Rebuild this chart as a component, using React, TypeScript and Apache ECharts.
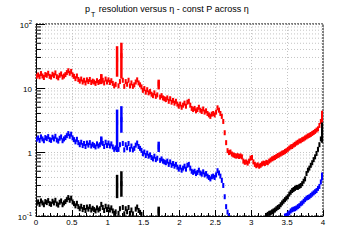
import React, { useEffect, useRef } from "react";
import * as echarts from "echarts";

// pseudorapidity bins: 200 bins of width 0.02 from 0 to 4
const binWidth = 0.02;
const etaCenters: number[] = Array.from({ length: 200 }, (_, i) => +(0.01 + i * binWidth).toFixed(2));

// p_T resolution (%) per eta bin for the three momentum settings
const redValues: (number | null)[] = [
  15.2, 16.0, 15.0, 16.8, 15.4, 14.6, 16.2, 15.8, 17.0, 15.2,
  14.8, 16.4, 15.6, 17.2, 15.0, 14.4, 15.8, 16.6, 14.8, 15.4,
  16.2, 17.4, 18.6, 17.0, 18.2, 16.0, 15.2, 14.0, 15.4, 13.6,
  12.8, 13.8, 12.4, 13.2, 12.0, 13.4, 12.6, 13.6, 12.2, 12.8,
  12.4, 11.8, 13.0, 12.2, 12.6, 14.8, 13.2, 12.0, 13.8, 12.4,
  13.4, 12.2, 13.0, 11.8, 10.8, 11.4, 28, 10.8, 12.6, 32,
  13.2, 10.6, 12.6, 11.4, 13.2, 10.8, 12.0, 10.6, 11.2, 12.4,
  13.4, 12.0, 11.2, 10.4, 9.2, 9.8, 8.6, 9.4, 8.4, 8.8,
  8.0, 7.6, 8.4, 7.4, 7.8, 11.6, 7.2, 7.6, 7.0, 6.8,
  6.6, 7.0, 6.2, 6.8, 6.0, 6.4, 5.8, 6.2, 5.6, 5.2,
  5.6, 5.0, 5.4, 5.8, 5.2, 6.0, 6.2, 5.4, 4.8, 4.6,
  4.8, 4.4, 4.6, 5.0, 4.5, 4.3, 4.7, 4.2, 4.4, 4.0,
  3.8, 3.6, 3.9, 4.0, 3.8, 4.2, 4.9, 4.5, 4.0, 3.6,
  3.0, 2.0, 1.4, 1.05, 0.98, 1.0, 0.93, 0.9, 0.88, 0.86,
  0.88, 0.85, 0.87, 0.84, 0.72, 0.69, 0.7, 0.67, 0.72, 0.8,
  0.82, 0.7, 0.64, 0.61, 0.63, 0.6, 0.62, 0.65, 0.67, 0.66,
  0.69, 0.68, 0.72, 0.75, 0.78, 0.8, 0.82, 0.85, 0.88, 0.9,
  0.93, 0.96, 0.98, 1.02, 1.05, 1.1, 1.15, 1.2, 1.22, 1.28,
  1.32, 1.38, 1.42, 1.48, 1.5, 1.56, 1.6, 1.66, 1.72, 1.78,
  1.82, 1.88, 1.95, 2.02, 2.1, 2.2, 2.3, 2.6, 3.0, 3.6,
];

const blueValues: (number | null)[] = [
  1.58, 1.66, 1.52, 1.72, 1.6, 1.5, 1.68, 1.62, 1.74, 1.56,
  1.52, 1.7, 1.6, 1.76, 1.54, 1.48, 1.64, 1.72, 1.5, 1.6,
  1.68, 1.8, 1.94, 1.76, 1.9, 1.66, 1.56, 1.44, 1.58, 1.4,
  1.3, 1.42, 1.26, 1.36, 1.22, 1.38, 1.28, 1.4, 1.24, 1.32,
  1.26, 1.2, 1.34, 1.24, 1.3, 1.52, 1.36, 1.22, 1.42, 1.26,
  1.38, 1.24, 1.34, 1.2, 1.1, 1.16, 2.9, 1.1, 1.3, 3.2,
  1.36, 1.08, 1.3, 1.16, 1.36, 1.1, 1.24, 1.08, 1.14, 1.28,
  1.38, 1.22, 1.14, 1.06, 0.94, 1.0, 0.88, 0.96, 0.86, 0.9,
  0.82, 0.78, 0.86, 0.76, 0.8, 1.2, 0.74, 0.78, 0.72, 0.7,
  0.68, 0.72, 0.64, 0.7, 0.62, 0.66, 0.6, 0.64, 0.58, 0.54,
  0.58, 0.52, 0.56, 0.6, 0.54, 0.62, 0.64, 0.56, 0.5, 0.48,
  0.5, 0.46, 0.48, 0.52, 0.47, 0.45, 0.49, 0.44, 0.46, 0.42,
  0.4, 0.38, 0.41, 0.42, 0.4, 0.44, 0.51, 0.47, 0.42, 0.36,
  0.3, 0.2, 0.14, 0.115, 0.1, null, null, null, null, null,
  null, null, null, null, null, null, null, null, null, null,
  null, null, null, null, null, null, null, null, null, null,
  null, null, null, null, null, null, null, null, null, null,
  null, null, null, 0.1, 0.102, 0.108, 0.112, 0.12, 0.125, 0.128,
  0.13, 0.134, 0.14, 0.145, 0.155, 0.16, 0.17, 0.18, 0.19, 0.195,
  0.2, 0.21, 0.22, 0.23, 0.24, 0.25, 0.27, 0.29, 0.34, 0.42,
];

const blackValues: (number | null)[] = [
  0.158, 0.166, 0.152, 0.172, 0.16, 0.15, 0.168, 0.162, 0.174, 0.156,
  0.152, 0.17, 0.16, 0.176, 0.154, 0.148, 0.164, 0.172, 0.15, 0.16,
  0.168, 0.18, 0.194, 0.176, 0.19, 0.166, 0.156, 0.144, 0.158, 0.14,
  0.13, 0.142, 0.126, 0.136, 0.122, 0.138, 0.128, 0.14, 0.124, 0.132,
  0.126, 0.12, 0.134, 0.124, 0.13, 0.152, 0.136, 0.122, 0.142, 0.126,
  0.138, 0.124, 0.134, 0.12, 0.11, 0.116, 0.3, 0.11, 0.13, 0.32,
  0.136, 0.108, 0.13, 0.116, 0.136, 0.11, 0.124, 0.108, null, 0.128,
  0.138, 0.122, 0.114, 0.106, null, null, null, null, null, null,
  null, null, null, null, null, 0.12, null, null, null, null,
  null, null, null, null, null, null, null, null, null, null,
  null, null, null, null, null, null, null, null, null, null,
  null, null, null, null, null, null, null, null, null, null,
  null, null, null, null, null, null, null, null, null, null,
  null, null, null, null, null, null, null, null, null, null,
  null, null, null, null, null, null, null, null, null, null,
  null, null, null, null, null, null, null, null, null, null,
  0.102, 0.106, 0.11, 0.112, 0.116, 0.12, 0.124, 0.13, 0.136, 0.14,
  0.15, 0.16, 0.17, 0.18, 0.19, 0.2, 0.22, 0.235, 0.25, 0.26,
  0.27, 0.28, 0.28, 0.29, 0.3, 0.32, 0.35, 0.38, 0.46, 0.52,
  0.56, 0.62, 0.68, 0.76, 0.84, 0.95, 1.1, 1.3, 1.6, 2.1,
];

// large statistical errors: [eta, low, high]
const redErrors: number[][] = [[0.91, 11.5, 16.5], [1.13, 15, 45], [1.19, 14, 51], [1.71, 9.5, 13.5], [3.99, 2.9, 4.4]];
const blueErrors: number[][] = [[0.91, 1.3, 1.75], [1.13, 1.0, 4.6], [1.19, 2.0, 5.2], [1.71, 1.0, 1.45], [3.99, 0.36, 0.48]];
const blackErrors: number[][] = [[1.13, 0.19, 0.44], [1.19, 0.2, 0.5], [1.71, 0.1, 0.14], [3.99, 1.4, 2.9]];

const xTicks = { min: 0, max: 4, step: 0.5 };
const yRange = { min: 0.1, max: 100 };
const logMinorTicks = [0.2, 0.3, 0.4, 0.5, 0.6, 0.7, 0.8, 0.9, 2, 3, 4, 5, 6, 7, 8, 9, 20, 30, 40, 50, 60, 70, 80, 90];

const FONT = "Liberation Sans, Arial, Helvetica, sans-serif";
const GRID_COLOR = "#c4c4c4";

function buildData(values: (number | null)[], errors: number[][]) {
  const out: (number | string)[][] = [];
  values.forEach((v, i) => {
    if (v == null) return;
    const eta = etaCenters[i];
    const e = errors.find((r) => Math.abs(r[0] - eta) < 1e-6);
    out.push([eta, v, e ? e[1] : "-", e ? e[2] : "-"]);
  });
  return out;
}

function histRender(color: string) {
  return (params: any, api: any) => {
    const eta = api.value(0);
    const v = api.value(1);
    const lo = api.value(2);
    const hi = api.value(3);
    const cs = params.coordSys;
    const clip = { x: cs.x, y: cs.y, width: cs.width, height: cs.height };
    const pL = api.coord([eta - binWidth / 2, v]);
    const pR = api.coord([eta + binWidth / 2, v]);
    const children: any[] = [];
    const bar = echarts.graphic.clipRectByRect(
      { x: pL[0] - 0.3, y: pL[1] - 2.5, width: pR[0] - pL[0] + 0.6, height: 5 },
      clip
    );
    if (bar) children.push({ type: "rect", shape: bar, style: { fill: color } });
    if (!isNaN(lo) && !isNaN(hi)) {
      const pLo = api.coord([eta, lo]);
      const pHi = api.coord([eta, hi]);
      const cx = (pL[0] + pR[0]) / 2;
      const err = echarts.graphic.clipRectByRect(
        { x: cx - 1.25, y: pHi[1], width: 2.5, height: pLo[1] - pHi[1] },
        clip
      );
      if (err) children.push({ type: "rect", shape: err, style: { fill: color } });
    }
    return { type: "group", children };
  };
}

function minorGridRender(params: any, api: any) {
  const v = api.value(1);
  const p0 = api.coord([xTicks.min, v]);
  const p1 = api.coord([xTicks.max, v]);
  return {
    type: "group",
    children: [
      {
        type: "line",
        shape: { x1: p0[0], y1: p0[1], x2: p1[0], y2: p1[1] },
        style: { stroke: GRID_COLOR, lineWidth: 1, lineDash: [1, 2] },
      },
      {
        type: "line",
        shape: { x1: p0[0], y1: p0[1], x2: p0[0] + 5, y2: p0[1] },
        style: { stroke: "#000", lineWidth: 1 },
      },
    ],
  };
}

export default function App() {
  const ref = useRef<HTMLDivElement>(null);
  useEffect(() => {
    if (!ref.current) return;
    const chart = echarts.init(ref.current, undefined, { renderer: "svg" });
    chart.setOption({
      animation: false,
      backgroundColor: "#fff",
      textStyle: { fontFamily: FONT },
      grid: {
        left: 36,
        right: 37,
        top: 24,
        bottom: 24,
        show: true,
        borderColor: "#000",
        borderWidth: 1,
        borderType: [2, 1],
      },
      graphic: [
        {
          type: "text",
          left: 85,
          top: 4,
          style: {
            text: "{p|p}{s|T}{p| resolution versus η - const P across η}",
            rich: {
              p: { fontSize: 9, fontFamily: FONT, fill: "#000", lineHeight: 14, verticalAlign: "top" },
              s: { fontSize: 7, fontFamily: FONT, fill: "#000", lineHeight: 14, verticalAlign: "bottom", padding: [0, 1, 0, 1] },
            },
          },
        },
      ],
      xAxis: {
        type: "value",
        min: xTicks.min,
        max: xTicks.max,
        interval: xTicks.step,
        axisLine: { lineStyle: { color: "#000", width: 1 } },
        axisTick: { inside: true, length: 6, lineStyle: { color: "#000" } },
        minorTick: { show: true, splitNumber: 5, length: 3, lineStyle: { color: "#000" } },
        splitLine: { show: true, lineStyle: { color: GRID_COLOR, type: [1, 2] } },
        axisLabel: { fontSize: 8, color: "#000", margin: 2, fontFamily: FONT, formatter: (v: number) => String(v) },
      },
      yAxis: {
        type: "log",
        logBase: 10,
        min: yRange.min,
        max: yRange.max,
        axisLine: { show: true, lineStyle: { color: "#000", width: 1 } },
        axisTick: { inside: true, length: 9, lineStyle: { color: "#000" } },
        splitLine: { show: true, lineStyle: { color: GRID_COLOR, type: [1, 2] } },
        axisLabel: {
          margin: 4,
          formatter: (v: number) => {
            if (Math.abs(v - 0.1) < 1e-9) return "{b|10}{s|-1}";
            if (Math.abs(v - 100) < 1e-6) return "{b|10}{s|2}";
            return "{b|" + Math.round(v) + "}";
          },
          rich: {
            b: { fontSize: 8, color: "#000", fontFamily: FONT, lineHeight: 10, verticalAlign: "bottom" },
            s: { fontSize: 6, color: "#000", fontFamily: FONT, lineHeight: 10, verticalAlign: "top" },
          },
        },
      },
      series: [
        {
          type: "custom",
          name: "minor grid",
          z: 1,
          silent: true,
          renderItem: minorGridRender,
          data: logMinorTicks.map((v) => [xTicks.min, v]),
          encode: { x: 0, y: 1 },
        },
        {
          type: "custom",
          name: "p = const (1)",
          z: 3,
          renderItem: histRender("#ff0000"),
          data: buildData(redValues, redErrors),
          encode: { x: 0, y: 1 },
        },
        {
          type: "custom",
          name: "p = const (2)",
          z: 3,
          renderItem: histRender("#0000ff"),
          data: buildData(blueValues, blueErrors),
          encode: { x: 0, y: 1 },
        },
        {
          type: "custom",
          name: "p = const (3)",
          z: 3,
          renderItem: histRender("#000000"),
          data: buildData(blackValues, blackErrors),
          encode: { x: 0, y: 1 },
        },
      ],
    });
    return () => chart.dispose();
  }, []);
  return <div ref={ref} style={{ width: 360, height: 240, position: "absolute", left: 0, top: 0 }} />;
}
